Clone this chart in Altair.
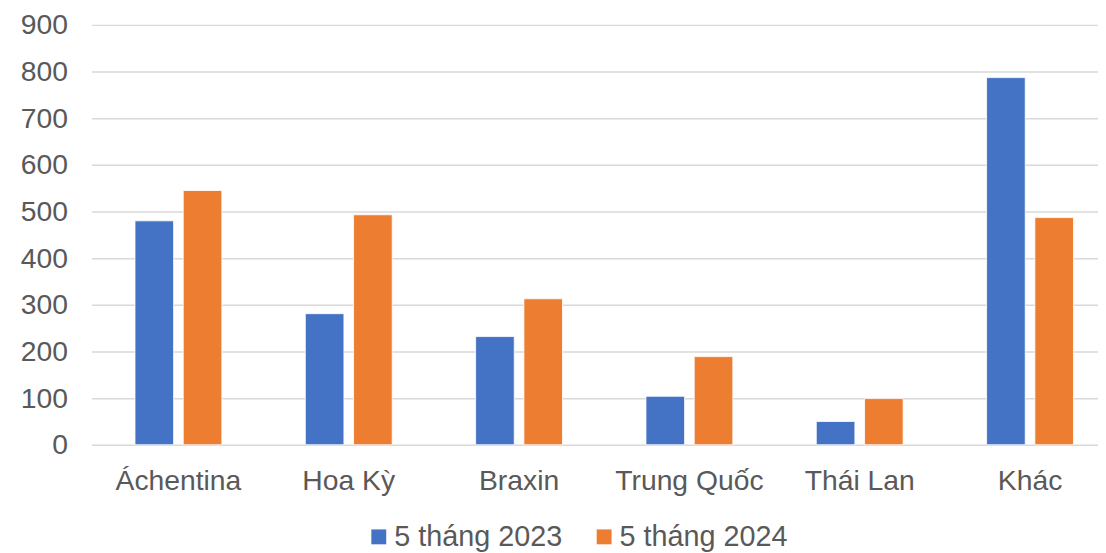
import altair as alt
import pandas as pd

categories = ["Áchentina", "Hoa Kỳ", "Braxin", "Trung Quốc", "Thái Lan", "Khác"]
series_names = ["5 tháng 2023", "5 tháng 2024"]
values_2023 = [480, 281, 232, 104, 50, 787]
values_2024 = [545, 493, 313, 189, 99, 487]
y_ticks = [0, 100, 200, 300, 400, 500, 600, 700, 800, 900]

rows = []
for c, a, b in zip(categories, values_2023, values_2024):
    rows.append({"cat": c, "series": series_names[0], "value": a})
    rows.append({"cat": c, "series": series_names[1], "value": b})
df = pd.DataFrame(rows)

FONT = "Liberation Sans"
TXT = "#595959"

chart = alt.Chart(df).mark_bar(stroke="white", strokeWidth=0.8).encode(
    x=alt.X("cat:N", sort=categories, title=None,
            scale=alt.Scale(paddingInner=0.49, paddingOuter=0.2, align=0.64, round=False),
            axis=alt.Axis(labelAngle=0, labelFontSize=28.5, labelColor=TXT, labelFont=FONT,
                          labelPadding=22, ticks=False, domain=False, grid=False, labelLimit=0)),
    xOffset=alt.XOffset("series:N", sort=series_names,
                        scale=alt.Scale(paddingInner=0.2)),
    y=alt.Y("value:Q", title=None,
            scale=alt.Scale(domain=[0, 900], nice=False),
            axis=alt.Axis(values=y_ticks, labelFontSize=28.5, labelColor=TXT, labelFont=FONT,
                          labelPadding=24, ticks=False, domain=False,
                          gridColor="#d9d9d9", gridWidth=1.5)),
    color=alt.Color("series:N", sort=series_names,
                    scale=alt.Scale(domain=series_names, range=["#4472C4", "#ED7D31"]),
                    legend=alt.Legend(title=None, orient="none", direction="horizontal",
                                      legendX=275, legendY=501,
                                      symbolType="square", symbolSize=225,
                                      labelFontSize=29, labelColor=TXT, labelFont=FONT,
                                      labelOffset=1, columnPadding=27, labelLimit=0,
                                      symbolStrokeWidth=0)),
).properties(
    width=1014, height=423,
    autosize=alt.AutoSizeParams(type="none"),
    padding={"left": 84, "top": 15, "right": 0, "bottom": 107},
).configure_view(stroke=None)

chart.save("out.html", embed_options={"renderer": "svg", "actions": False})
